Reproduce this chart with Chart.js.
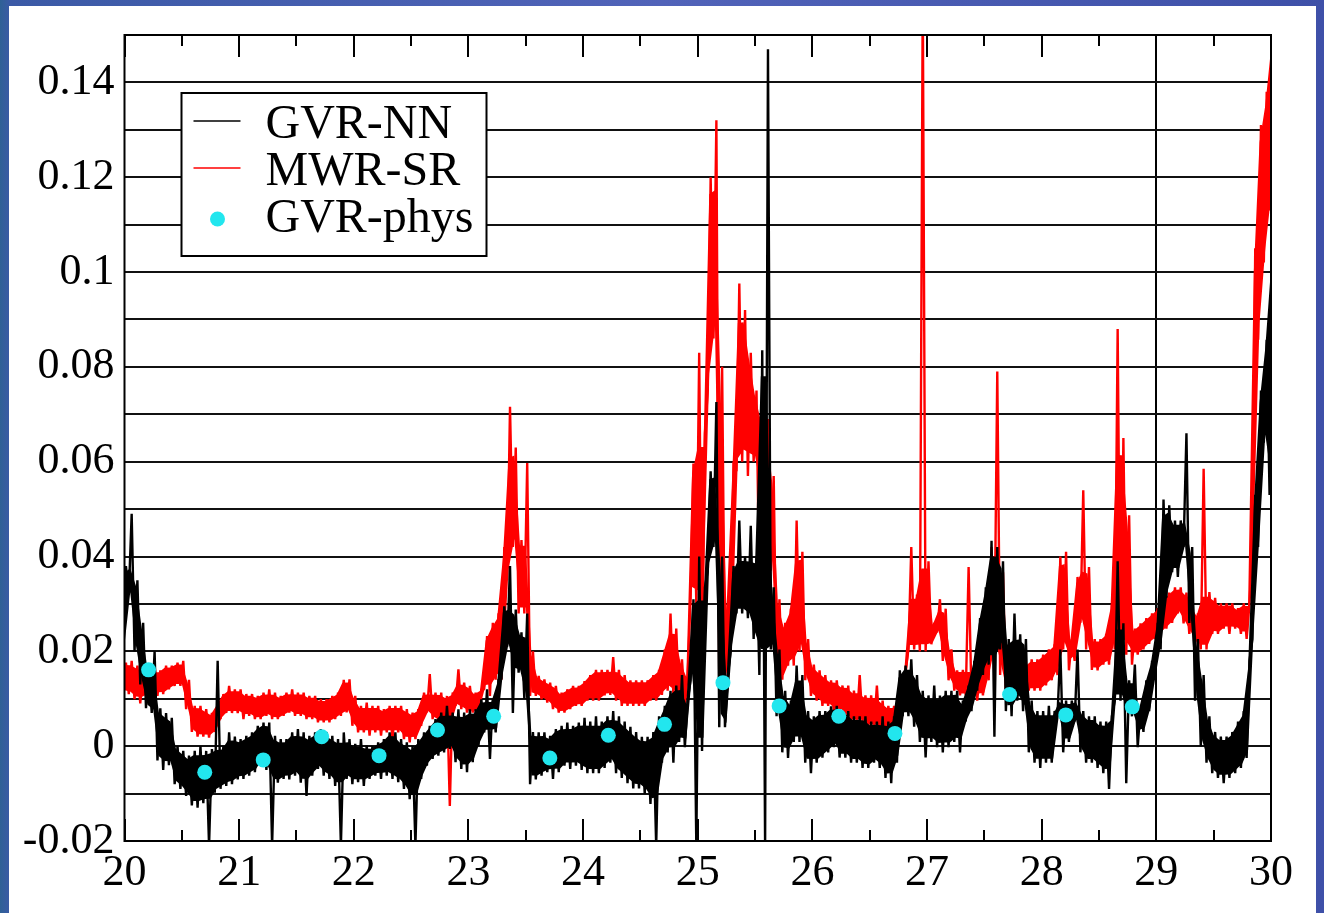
<!DOCTYPE html>
<html>
<head>
<meta charset="utf-8">
<title>GVR-NN / MWR-SR / GVR-phys</title>
<script src="https://cdn.jsdelivr.net/npm/chart.js@4.4.1/dist/chart.umd.min.js"></script>
<style>
  html, body { margin:0; padding:0; }
  body {
    width:1324px; height:913px; overflow:hidden; position:relative;
    background: linear-gradient(90deg, #2f6196 0px, #3b5aa6 10px, #5163b9 50%, #3e50a8 100%);
  }
  #panel { position:absolute; left:9px; top:6px; width:1307px; height:907px; background:#fff; }
  canvas { display:block; }
</style>
</head>
<body>
<div id="panel"><canvas id="chart" width="1307" height="907"></canvas></div>
<script>
// ---------------- DATA ----------------
// dense series read as min / max envelope per 0.05 step, from 20.00 to 30.00
const xStart = 20, xStep = 0.05;

const nnLo = [
  0.020, 0.032, 0.020, 0.013, 0.008, 0.007, -0.003, -0.005, -0.004, -0.008,
  -0.009, -0.0105, -0.0125, -0.013, -0.012, -0.021, -0.0098, -0.009, -0.0084, -0.008,
  -0.007, -0.0069, -0.0062, -0.0055, -0.0034, -0.005, -0.021, -0.0077, -0.0069, -0.007,
  -0.0062, -0.0077, -0.0105, -0.0062, -0.0048, -0.0062, -0.0069, -0.0084, -0.021, -0.0069,
  -0.008, -0.0076, -0.0084, -0.0069, -0.0062, -0.0069, -0.0062, -0.0069, -0.0076, -0.009,
  -0.0112, -0.021, -0.0069, -0.0041, -0.0027, -0.002, -0.0013, -0.0006, -0.0034, -0.0048,
  -0.0055, -0.0034, 0.0001, 0.0029, -0.0027, 0.0029, 0.0141, 0.021, 0.007, 0.0155,
  0.010, -0.008, -0.007, -0.0062, -0.0055, -0.0069, -0.0055, -0.0041, -0.0048, -0.0041,
  -0.005, -0.0057, -0.0057, -0.0057, -0.0046, -0.0035, -0.0057, -0.0067, -0.0078, -0.0089,
  -0.0089, -0.010, -0.0122, -0.021, -0.0035, -0.0013, -0.0035, 0.0009, -0.0002, 0.0139,
  -0.021, -0.001, 0.037, 0.042, 0.004, 0.004, 0.020, 0.028, 0.028, 0.027,
  0.0226, 0.015, -0.021, 0.0204, 0.0063, -0.0013, -0.0025, 0.0009, 0.0009, -0.0035,
  -0.0057, -0.0035, -0.0024, -0.0013, -0.0002, -0.0024, -0.0024, -0.0035, -0.0035, -0.0046,
  -0.0046, -0.0035, -0.0046, -0.0067, -0.0078, -0.0035, 0.0063, 0.0063, 0.0041, 0.0009,
  -0.0024, 0.0009, -0.0002, -0.0013, -0.0002, 0.0009, -0.0013, 0.0052, 0.0074, 0.0117,
  0.015, 0.0172, 0.002, 0.0204, 0.0074, 0.0063, 0.0096, 0.0074, -0.0013, -0.0035,
  -0.0046, -0.0035, -0.0035, 0.0063, -0.0013, 0.0009, 0.0052, -0.0013, -0.0035, -0.0035,
  -0.0046, -0.0057, -0.009, 0.0096, 0.0096, -0.0078, 0.0063, -0.0002, 0.003, 0.0074,
  0.015, 0.0204, 0.0313, 0.0367, 0.0357, 0.042, 0.026, 0.0096, 0.000, -0.0035,
  -0.0057, -0.0067, -0.0078, -0.0067, -0.0057, -0.0046, -0.0025, 0.0226, 0.042, 0.064,
  0.053
];
const nnHi = [
  0.038, 0.049, 0.035, 0.026, 0.017, 0.020, 0.008, 0.007, 0.006, 0.000,
  -0.001, -0.002, -0.001, 0.000, -0.001, -0.0006, 0.018, 0.000, 0.0029, 0.002,
  0.0015, 0.0022, 0.0029, 0.0043, 0.005, 0.005, 0.0022, 0.0015, 0.0015, 0.0029,
  0.0036, 0.0029, 0.0022, 0.0029, 0.0036, 0.0029, 0.0022, 0.0015, 0.0029, 0.0015,
  0.0005, 0.0015, 0.0001, 0.000, 0.0008, 0.0015, 0.0029, 0.0029, 0.0015, 0.0008,
  0.0001, 0.0015, 0.0029, 0.0043, 0.0057, 0.0071, 0.0085, 0.0071, 0.0078, 0.0071,
  0.0078, 0.0078, 0.0099, 0.012, 0.0099, 0.0141, 0.0295, 0.038, 0.0288, 0.024,
  0.028, 0.003, 0.0029, 0.0029, 0.0022, 0.0036, 0.0043, 0.005, 0.0043, 0.005,
  0.006, 0.0052, 0.0063, 0.0052, 0.0063, 0.0074, 0.0063, 0.0052, 0.0041, 0.003,
  0.002, 0.002, 0.003, 0.0063, 0.0085, 0.0117, 0.0128, 0.015, 0.0096, 0.031,
  0.040, 0.0335, 0.058, 0.0726, 0.040, 0.015, 0.038, 0.0476, 0.040, 0.0465,
  0.040, 0.0835, 0.147, 0.0335, 0.0204, 0.0117, 0.0096, 0.017, 0.015, 0.0074,
  0.0063, 0.0074, 0.0074, 0.0084, 0.0085, 0.0074, 0.0074, 0.0063, 0.0063, 0.0063,
  0.0052, 0.0052, 0.0063, 0.0052, 0.0063, 0.016, 0.017, 0.0183, 0.015, 0.0117,
  0.0107, 0.0128, 0.0107, 0.0117, 0.0117, 0.0117, 0.0096, 0.0128, 0.018, 0.027,
  0.0335, 0.0433, 0.042, 0.039, 0.0226, 0.028, 0.0236, 0.0226, 0.0096, 0.0074,
  0.0074, 0.0085, 0.0074, 0.0204, 0.0096, 0.0096, 0.0204, 0.0074, 0.0063, 0.0063,
  0.0052, 0.0052, 0.0063, 0.039, 0.0259, 0.0139, 0.0172, 0.0084, 0.0139, 0.018,
  0.026, 0.052, 0.0508, 0.0476, 0.0476, 0.066, 0.042, 0.0226, 0.015, 0.0063,
  0.003, 0.002, 0.002, 0.003, 0.0052, 0.0074, 0.018, 0.053, 0.075, 0.0857,
  0.105
];
const srLo = [
  0.0113, 0.011, 0.0099, 0.009, 0.0106, 0.011, 0.0106, 0.011, 0.012, 0.0127,
  0.0127, 0.0078, 0.003, 0.002, 0.002, 0.0018, 0.003, 0.0057, 0.007, 0.007,
  0.007, 0.0057, 0.0064, 0.0057, 0.0057, 0.0064, 0.0057, 0.0057, 0.0064, 0.0071,
  0.0064, 0.0064, 0.0057, 0.0057, 0.005, 0.005, 0.005, 0.0057, 0.0064, 0.0071,
  0.0043, 0.0029, 0.0029, 0.0022, 0.0029, 0.0022, 0.0029, 0.0015, 0.0029, 0.0015,
  0.0008, 0.0015, 0.0043, 0.0071, 0.0057, 0.005, 0.0043, -0.0126, 0.0085, 0.0078,
  0.0071, 0.0071, 0.0078, 0.012, 0.0106, 0.014, 0.014, 0.035, 0.042, 0.028,
  0.028, 0.0106, 0.0106, 0.0099, 0.0092, 0.0078, 0.0071, 0.0071, 0.0078, 0.0085,
  0.0085, 0.0096, 0.0096, 0.0096, 0.0107, 0.0108, 0.0096, 0.0085, 0.0085, 0.0085,
  0.0085, 0.0085, 0.0096, 0.0096, 0.0108, 0.0117, 0.0107, 0.0096, 0.0085, 0.0313,
  0.030, 0.016, 0.075, 0.086, 0.0135, 0.014, 0.020, 0.058, 0.060, 0.057,
  0.060, 0.031, 0.053, 0.037, 0.0128, 0.014, 0.017, 0.017, 0.020, 0.0139,
  0.0106, 0.0096, 0.0085, 0.0085, 0.0074, 0.0074, 0.0063, 0.0052, 0.0052, 0.0052,
  0.0041, 0.0041, 0.003, 0.002, 0.003, 0.0041, 0.0096, 0.0204, 0.0204, 0.020,
  0.020, 0.0215, 0.024, 0.018, 0.0139, 0.0117, 0.0107, 0.0107, 0.0107, 0.0096,
  0.0107, 0.0139, 0.0204, 0.015, 0.0107, 0.0096, 0.0107, 0.0107, 0.0117, 0.0117,
  0.0117, 0.0128, 0.0139, 0.015, 0.0204, 0.016, 0.018, 0.026, 0.0204, 0.0161,
  0.016, 0.0172, 0.0172, 0.0204, 0.015, 0.0193, 0.0172, 0.0193, 0.0204, 0.0216,
  0.0226, 0.0237, 0.0248, 0.026, 0.028, 0.0259, 0.0237, 0.0215, 0.0204, 0.0204,
  0.0237, 0.0237, 0.0248, 0.0237, 0.0248, 0.0237, 0.0226, 0.042, 0.0857, 0.102,
  0.113
];
const srHi = [
  0.0176, 0.018, 0.017, 0.016, 0.0155, 0.017, 0.016, 0.017, 0.017, 0.0176,
  0.018, 0.014, 0.0085, 0.0085, 0.0078, 0.007, 0.009, 0.011, 0.0127, 0.012,
  0.012, 0.011, 0.011, 0.0106, 0.0113, 0.012, 0.0113, 0.0106, 0.0113, 0.012,
  0.0113, 0.0113, 0.0106, 0.0106, 0.0099, 0.0099, 0.0106, 0.0113, 0.014, 0.0141,
  0.0106, 0.0085, 0.0092, 0.0085, 0.0085, 0.0078, 0.0085, 0.0085, 0.0085, 0.0078,
  0.0071, 0.0078, 0.0113, 0.0152, 0.0113, 0.0113, 0.0106, 0.0113, 0.0162, 0.0134,
  0.0127, 0.0113, 0.012, 0.0232, 0.026, 0.028, 0.042, 0.0716, 0.063, 0.0435,
  0.0597, 0.020, 0.0148, 0.0141, 0.0134, 0.0127, 0.0113, 0.012, 0.0127, 0.0127,
  0.0137, 0.015, 0.0161, 0.0161, 0.0161, 0.0188, 0.0161, 0.015, 0.0139, 0.0139,
  0.0139, 0.0139, 0.015, 0.0161, 0.0204, 0.028, 0.0248, 0.0183, 0.015, 0.0596,
  0.083, 0.066, 0.120, 0.132, 0.080, 0.030, 0.060, 0.0976, 0.092, 0.083,
  0.075, 0.070, 0.069, 0.057, 0.031, 0.026, 0.029, 0.0476, 0.041, 0.0226,
  0.0172, 0.016, 0.015, 0.0139, 0.0139, 0.0128, 0.0128, 0.0117, 0.015, 0.0107,
  0.0107, 0.0128, 0.0096, 0.0085, 0.0085, 0.0096, 0.016, 0.042, 0.032, 0.160,
  0.039, 0.026, 0.031, 0.029, 0.0204, 0.016, 0.0161, 0.0378, 0.0161, 0.0161,
  0.018, 0.042, 0.079, 0.0367, 0.0172, 0.0161, 0.0172, 0.0172, 0.0183, 0.0183,
  0.0193, 0.0204, 0.0215, 0.040, 0.041, 0.0226, 0.0357, 0.054, 0.0378, 0.0226,
  0.0226, 0.0237, 0.030, 0.088, 0.065, 0.0487, 0.0248, 0.0259, 0.027, 0.028,
  0.0291, 0.0313, 0.0324, 0.0335, 0.0335, 0.0324, 0.0301, 0.028, 0.0585, 0.0325,
  0.0313, 0.0301, 0.0301, 0.0301, 0.0291, 0.0301, 0.0301, 0.105, 0.131, 0.138,
  0.150
];

// GVR-phys points
const physX = [20.21, 20.70, 21.21, 21.72, 22.22, 22.73, 23.22, 23.71, 24.22, 24.71,
               25.22, 25.71, 26.23, 26.72, 27.72, 28.21, 28.79];
const physY = [0.0161, -0.0055, -0.0029, 0.0020, -0.0020, 0.0034, 0.0063, -0.0025, 0.0023, 0.0046,
               0.0134, 0.0085, 0.0063, 0.0027, 0.0109, 0.0066, 0.0083];

const seriesNames = ["GVR-NN", "MWR-SR", "GVR-phys"];
const seriesColors = ["#000000", "#ff0000", "#22e6ee"];

const serif = '"Liberation Serif", "Times New Roman", serif';

// ---------------- HELPERS ----------------
// low/high per step -> one zigzag polyline, like the raw noisy record
function zigzag(lo, hi){
    const pts = [];
    for (let i = 0; i < lo.length; i++){
        const x = xStart + i * xStep;
        pts.push({x: x - xStep / 4, y: lo[i]});
        pts.push({x: x + xStep / 4, y: hi[i]});
    }
    return pts;
}

// solid core of the noisy band: single-step spikes left to the zigzag line
function bandEdge(lo, hi, side){
    const n = lo.length;
    return lo.map((_, i) => {
        const a = Math.max(0, i - 1), b = Math.min(n - 1, i + 1);
        const h = Math.min(hi[i], Math.max(hi[a], hi[b]));
        const l = Math.max(lo[i], Math.min(lo[a], lo[b]));
        const inset = 0.08 * (h - l);
        return {x: xStart + i * xStep, y: side === "hi" ? h - inset : l + inset};
    });
}

function bandSets(lo, hi, color, order){
    const common = { showLine: true, borderWidth: 0, pointRadius: 0, backgroundColor: color, order: order };
    return [
        Object.assign({ label: "", data: bandEdge(lo, hi, "hi"), fill: "+1" }, common),
        Object.assign({ label: "", data: bandEdge(lo, hi, "lo"), fill: false }, common)
    ];
}

// frame, inward ticks on top/bottom, legend box
const decorPlugin = {
    id: "decor",
    afterDatasetsDraw(chart){
        const ctx = chart.ctx;
        const a = chart.chartArea;
        const xs = chart.scales.x;
        ctx.save();
        ctx.strokeStyle = "#000";
        ctx.lineWidth = 2;
        ctx.strokeRect(a.left, a.top, a.right - a.left, a.bottom - a.top);

        ctx.beginPath();
        for (let k = 0; k <= 20; k++){
            const v = xs.min + k * 0.5;
            const px = Math.round(xs.getPixelForValue(v));
            const len = (k % 2 === 0) ? 22 : 11;
            ctx.moveTo(px, a.bottom); ctx.lineTo(px, a.bottom - len);
            ctx.moveTo(px, a.top); ctx.lineTo(px, a.top + len);
        }
        ctx.stroke();

        // legend
        const bx = a.left + 57, by = a.top + 58, bw = 305, bh = 163;
        ctx.fillStyle = "#fff";
        ctx.fillRect(bx, by, bw, bh);
        ctx.strokeRect(bx, by, bw, bh);

        ctx.font = "48px " + serif;
        ctx.textBaseline = "alphabetic";
        ctx.textAlign = "left";
        for (let i = 0; i < seriesNames.length; i++){
            const base = by + 45 + i * 47;
            if (i < 2){
                ctx.strokeStyle = seriesColors[i];
                ctx.lineWidth = 1.5;
                ctx.beginPath();
                ctx.moveTo(bx + 12, base - 17);
                ctx.lineTo(bx + 59, base - 17);
                ctx.stroke();
            } else {
                ctx.fillStyle = seriesColors[i];
                ctx.beginPath();
                ctx.arc(bx + 36, base - 13, 7.5, 0, Math.PI * 2);
                ctx.fill();
            }
            ctx.fillStyle = "#000";
            ctx.fillText(seriesNames[i], bx + 84, base);
        }
        ctx.restore();
    }
};

// ---------------- CHART ----------------
new Chart(document.getElementById("chart"), {
    type: "scatter",
    data: {
        datasets: [
            {
                label: seriesNames[2],
                data: physX.map((x, i) => ({x: x, y: physY[i]})),
                showLine: false,
                pointRadius: 7.5,
                pointBackgroundColor: seriesColors[2],
                pointBorderWidth: 0,
                order: 0
            },
            {
                label: seriesNames[0],
                data: zigzag(nnLo, nnHi),
                showLine: true,
                borderColor: seriesColors[0],
                borderWidth: 2.4,
                borderJoinStyle: "bevel",
                pointRadius: 0,
                order: 1
            },
            ...bandSets(nnLo, nnHi, seriesColors[0], 2),
            {
                label: seriesNames[1],
                data: zigzag(srLo, srHi),
                showLine: true,
                borderColor: seriesColors[1],
                borderWidth: 2.4,
                borderJoinStyle: "bevel",
                pointRadius: 0,
                order: 3
            },
            ...bandSets(srLo, srHi, seriesColors[1], 4)
        ]
    },
    options: {
        responsive: false,
        animation: false,
        events: [],
        layout: { padding: { top: 29, right: 45, left: 0, bottom: 0 } },
        plugins: { legend: { display: false }, tooltip: { enabled: false } },
        scales: {
            x: {
                type: "linear",
                min: 20, max: 30,
                ticks: {
                    stepSize: 1,
                    color: "#000",
                    font: { family: serif, size: 44 },
                    padding: 6,
                    maxRotation: 0
                },
                grid: {
                    color: c => (c.tick && c.tick.value === 29) ? "#000" : "rgba(0,0,0,0)",
                    lineWidth: 2,
                    drawTicks: false
                },
                border: { display: false },
                afterFit(s){ s.height = 72; }
            },
            y: {
                min: -0.02, max: 0.15,
                ticks: {
                    stepSize: 0.01,
                    autoSkip: false,
                    color: "#000",
                    font: { family: serif, size: 44 },
                    padding: 10,
                    callback: v => (Math.round(v * 100) % 2 === 0) ? String(Number(v.toFixed(2))) : ""
                },
                grid: { color: "#111", lineWidth: 2, drawTicks: false },
                border: { display: false },
                afterFit(s){
                    s.width = 115.5;
                    s.paddingTop = 0;
                    s.paddingBottom = 0;
                }
            }
        }
    },
    plugins: [decorPlugin]
});
</script>
</body>
</html>
